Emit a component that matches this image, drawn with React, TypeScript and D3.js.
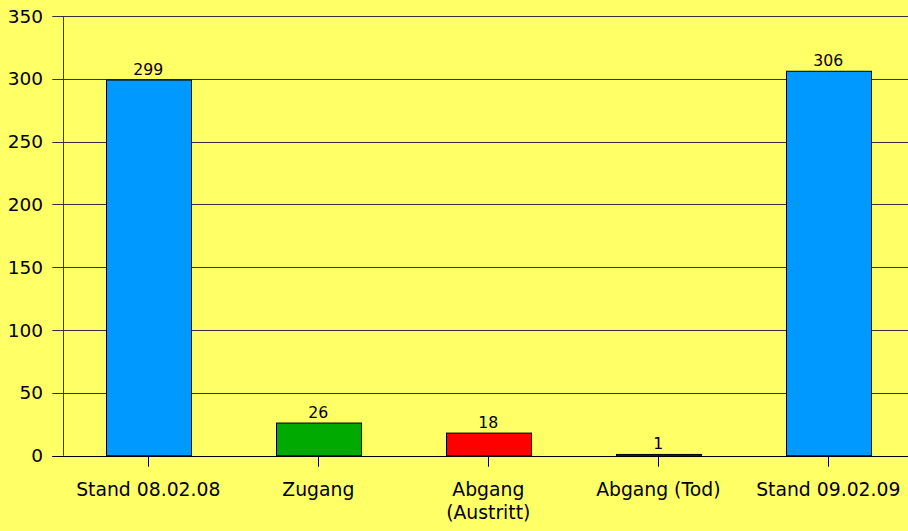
import React, { useEffect, useRef } from "react";
import * as d3 from "d3";

const categories = ["Stand 08.02.08", "Zugang", "Abgang\n(Austritt)", "Abgang (Tod)", "Stand 09.02.09"];
const values = [299, 26, 18, 1, 306];
const colors = ["#0099ff", "#00aa00", "#ff0000", "#00aa00", "#0099ff"];
const yTicks = [0, 50, 100, 150, 200, 250, 300, 350];

const W = 908;
const H = 531;

export default function App() {
  const ref = useRef<SVGSVGElement>(null);

  useEffect(() => {
    const svg = d3.select(ref.current);
    svg.selectAll("*").remove();

    const margin = { left: 63.3, top: 16, bottom: 75 };
    const x = d3
      .scaleBand()
      .domain(categories)
      .range([margin.left, margin.left + 850])
      .paddingInner(0.5)
      .paddingOuter(0.25);
    const y = d3.scaleLinear().domain([0, 350]).range([455.7, margin.top]);

    svg.append("rect").attr("width", W).attr("height", H).attr("fill", "#ffff66");

    // grid lines + y ticks
    const g = svg.append("g");
    g.selectAll(".grid")
      .data(yTicks)
      .join("line")
      .attr("x1", margin.left - 11)
      .attr("x2", W)
      .attr("y1", (d) => Math.round(y(d)) + 0.5)
      .attr("y2", (d) => Math.round(y(d)) + 0.5)
      .attr("stroke", "#333")
      .attr("stroke-width", 1);

    g.selectAll(".ylab")
      .data(yTicks)
      .join("text")
      .attr("x", 43)
      .attr("y", (d) => y(d) + 6.5)
      .attr("text-anchor", "end")
      .attr("font-family", "DejaVu Sans")
      .attr("font-size", 18.5)
      .attr("fill", "#000")
      .text((d) => d);

    // y axis line
    g.append("line")
      .attr("x1", Math.round(margin.left) + 0.5)
      .attr("x2", Math.round(margin.left) + 0.5)
      .attr("y1", y(350))
      .attr("y2", y(0))
      .attr("stroke", "#333");

    // bars
    g.selectAll(".bar")
      .data(values)
      .join("rect")
      .attr("x", (d, i) => Math.round(x(categories[i])!) + 0.5)
      .attr("y", (d) => y(d))
      .attr("width", Math.round(x.bandwidth()))
      .attr("height", (d) => y(0) - y(d))
      .attr("fill", (d, i) => colors[i])
      .attr("stroke", "#000")
      .attr("stroke-width", 1);

    // value labels
    g.selectAll(".val")
      .data(values)
      .join("text")
      .attr("x", (d, i) => x(categories[i])! + x.bandwidth() / 2)
      .attr("y", (d) => y(d) - 5.5)
      .attr("text-anchor", "middle")
      .attr("font-family", "DejaVu Sans")
      .attr("font-size", 15.7)
      .attr("fill", "#000")
      .text((d) => d);

    // x axis line
    g.append("line")
      .attr("x1", margin.left - 11)
      .attr("x2", W)
      .attr("y1", Math.round(y(0)) + 0.5)
      .attr("y2", Math.round(y(0)) + 0.5)
      .attr("stroke", "#000");

    // x ticks
    g.selectAll(".xt")
      .data(categories)
      .join("line")
      .attr("x1", (d) => Math.round(x(d)! + x.bandwidth() / 2) + 0.5)
      .attr("x2", (d) => Math.round(x(d)! + x.bandwidth() / 2) + 0.5)
      .attr("y1", y(0))
      .attr("y2", y(0) + 11)
      .attr("stroke", "#000");

    // x labels
    const xl = g
      .selectAll(".xl")
      .data(categories)
      .join("text")
      .attr("x", (d) => x(d)! + x.bandwidth() / 2)
      .attr("y", 496)
      .attr("text-anchor", "middle")
      .attr("font-family", "DejaVu Sans")
      .attr("font-size", 18.8)
      .attr("fill", "#000");
    xl.each(function (d) {
      const t = d3.select(this);
      const cx = x(d)! + x.bandwidth() / 2;
      d.split("\n").forEach((line, i) => {
        t.append("tspan")
          .attr("x", cx)
          .attr("dy", i === 0 ? 0 : 23)
          .text(line);
      });
    });
  }, []);

  return (
    <svg
      ref={ref}
      width={W}
      height={H}
      style={{ position: "absolute", left: 0, top: 0, display: "block" }}
    />
  );
}
